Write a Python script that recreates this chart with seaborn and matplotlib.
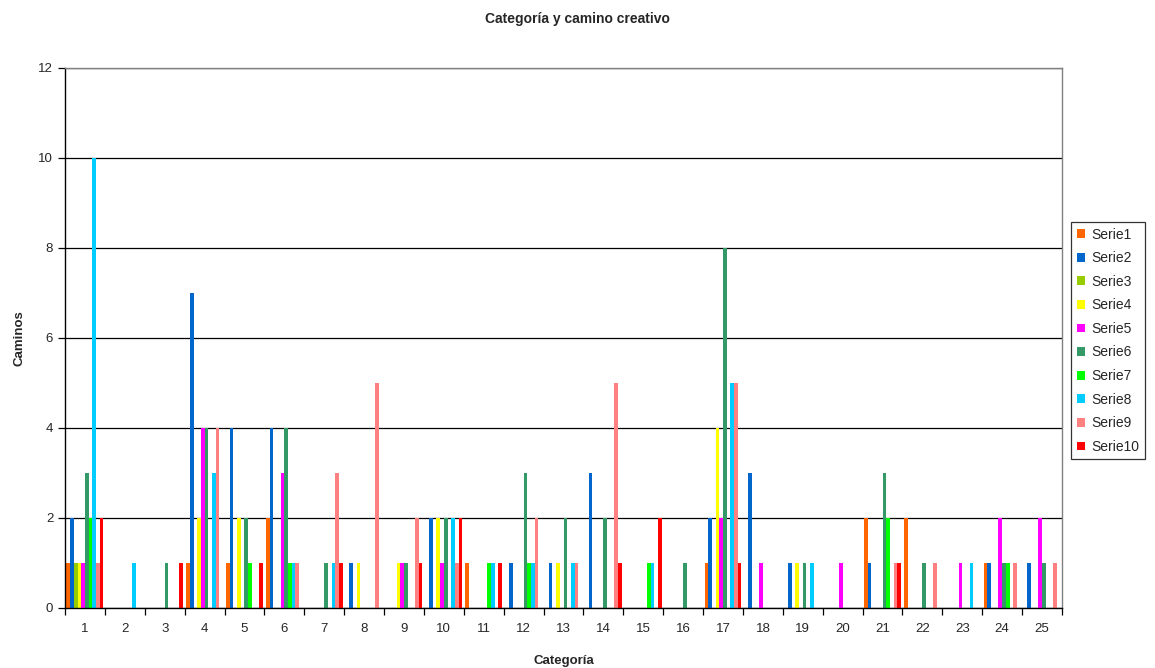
import matplotlib
matplotlib.use("Agg")
import matplotlib.pyplot as plt
import seaborn as sns
import pandas as pd
from matplotlib.patches import Patch

# Categories 1..25 on the x axis
categories = [str(i) for i in range(1, 26)]
series_names = [f"Serie{i}" for i in range(1, 11)]

serie1 = [1, 0, 0, 1, 1, 2, 0, 0, 0, 0, 1, 0, 0, 0, 0, 0, 1, 0, 0, 0, 2, 2, 0, 1, 0]
serie2 = [2, 0, 0, 7, 4, 4, 0, 1, 0, 2, 0, 1, 1, 3, 0, 0, 2, 3, 1, 0, 1, 0, 0, 1, 1]
serie3 = [1, 0, 0, 0, 0, 0, 0, 0, 0, 0, 0, 0, 0, 0, 0, 0, 0, 0, 0, 0, 0, 0, 0, 0, 0]
serie4 = [1, 0, 0, 2, 2, 0, 0, 1, 1, 2, 0, 0, 1, 0, 0, 0, 4, 0, 1, 0, 0, 0, 0, 0, 0]
serie5 = [1, 0, 0, 4, 0, 3, 0, 0, 1, 1, 0, 0, 0, 0, 0, 0, 2, 1, 0, 1, 0, 0, 1, 2, 2]
serie6 = [3, 0, 1, 4, 2, 4, 1, 0, 1, 2, 0, 3, 2, 2, 0, 1, 8, 0, 1, 0, 3, 1, 0, 1, 1]
serie7 = [2, 0, 0, 0, 1, 1, 0, 0, 0, 0, 1, 1, 0, 0, 1, 0, 0, 0, 0, 0, 2, 0, 0, 1, 0]
serie8 = [10, 1, 0, 3, 0, 1, 1, 0, 0, 2, 1, 1, 1, 0, 1, 0, 5, 0, 1, 0, 0, 0, 1, 0, 0]
serie9 = [1, 0, 0, 4, 0, 1, 3, 5, 2, 1, 0, 2, 1, 5, 0, 0, 5, 0, 0, 0, 1, 1, 0, 1, 1]
serie10 = [2, 0, 1, 0, 1, 0, 1, 0, 1, 2, 1, 0, 0, 1, 2, 0, 1, 0, 0, 0, 1, 0, 0, 0, 0]

all_series = [serie1, serie2, serie3, serie4, serie5,
              serie6, serie7, serie8, serie9, serie10]

colors = ["#FF6600", "#0066CC", "#99CC00", "#FFFF00", "#FF00FF",
          "#339966", "#00FF00", "#00CCFF", "#FF8080", "#FF0000"]

rows = []
for name, vals in zip(series_names, all_series):
    for cat, v in zip(categories, vals):
        rows.append({"Categoría": cat, "Caminos": v, "Serie": name})
df = pd.DataFrame(rows)

sns.set_style("white")
plt.rcParams["font.family"] = ["Liberation Sans", "DejaVu Sans"]

fig = plt.figure(figsize=(11.55, 6.68), dpi=100)
ax = fig.add_axes([65 / 1155, 1 - 608 / 668, (1062 - 65) / 1155, (608 - 68) / 668])

sns.barplot(data=df, x="Categoría", y="Caminos", hue="Serie",
            order=categories, hue_order=series_names,
            palette=colors, width=0.925, errorbar=None,
            linewidth=0, saturation=1, ax=ax)

ax.set_xlim(-0.5, len(categories) - 0.5)
ax.set_ylim(0, 12)
ax.set_yticks(range(0, 13, 2))
ax.yaxis.grid(True, color="#000000", linewidth=0.9)
ax.set_axisbelow(True)

# Category boundaries carry the tick marks; labels sit at the centers
ax.set_xticks([i + 0.5 for i in range(-1, len(categories))], minor=True)
ax.tick_params(axis="x", which="major", length=0, labelsize=9.5, pad=11)
ax.tick_params(axis="x", which="minor", length=5, width=0.9, color="black",
               direction="out", bottom=True)
ax.tick_params(axis="y", which="major", length=5, width=0.9, color="black",
               direction="out", left=True, labelsize=9.5)

for side in ["left", "bottom"]:
    ax.spines[side].set_color("black")
    ax.spines[side].set_linewidth(1.0)
for side in ["top", "right"]:
    ax.spines[side].set_visible(True)
    ax.spines[side].set_color("#808080")
    ax.spines[side].set_linewidth(1.0)

ax.set_xlabel("Categoría", fontsize=9.5, fontweight="bold", labelpad=14)
ax.set_ylabel("Caminos", fontsize=9.5, fontweight="bold", labelpad=9.5)
fig.suptitle("Categoría y camino creativo", fontsize=10, fontweight="bold", y=0.982)

ax.get_legend().remove()
handles = [Patch(facecolor=c, edgecolor="none") for c in colors]
leg = fig.legend(handles, series_names, loc="upper left",
                 bbox_to_anchor=(1071 / 1155, 1 - 222 / 668),
                 fontsize=10, frameon=True, fancybox=False,
                 handlelength=0.6, handleheight=0.6, handletextpad=0.45,
                 labelspacing=0.69, borderpad=0.4, borderaxespad=0)
leg.get_frame().set_edgecolor("black")
leg.get_frame().set_linewidth(0.9)

fig.savefig("out.png", dpi=100)
